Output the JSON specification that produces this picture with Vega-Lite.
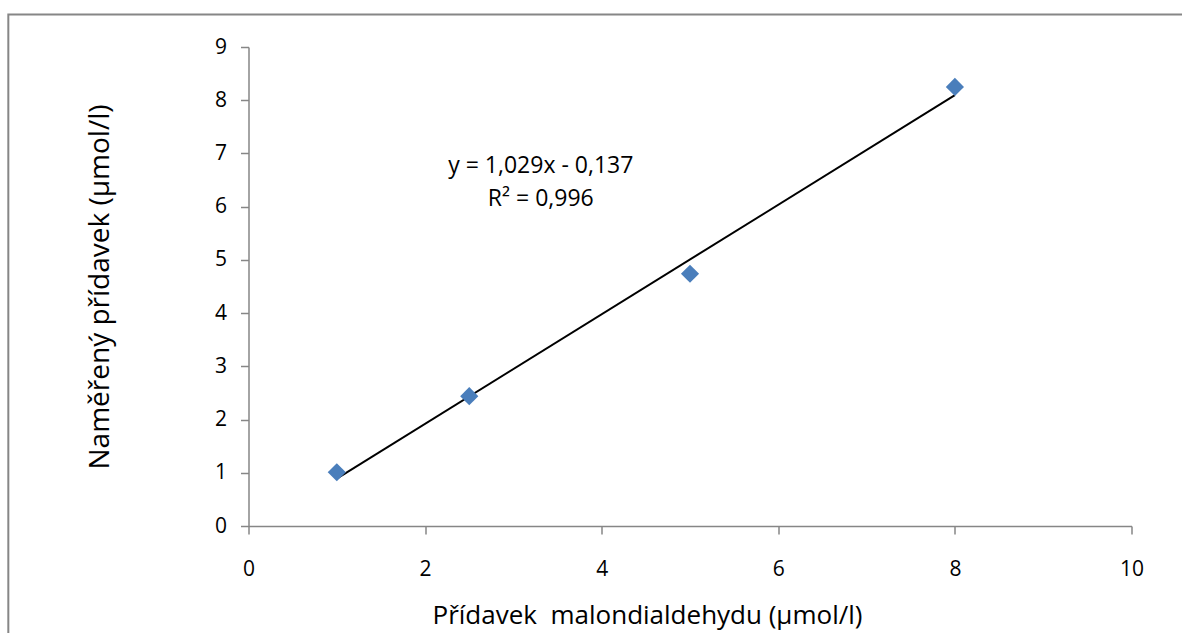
{
  "$schema": "https://vega.github.io/schema/vega-lite/v6.json",
  "width": 883,
  "height": 479,
  "autosize": {"type": "none"},
  "padding": {"left": 248.5, "top": 47, "right": 50, "bottom": 107},
  "background": "white",
  "config": {
    "view": {"stroke": null},
    "font": "Open Sans"
  },
  "datasets": {
    "points": [
      {"x": 1, "y": 1.01},
      {"x": 2.5, "y": 2.44},
      {"x": 5, "y": 4.74},
      {"x": 8, "y": 8.25}
    ],
    "trend": [
      {"x": 1, "y": 0.892},
      {"x": 8, "y": 8.095}
    ],
    "labels": [
      {"x": 3.31, "y": 6.77, "text": "y = 1,029x - 0,137"},
      {"x": 3.31, "y": 6.15, "text": "R² = 0,996"}
    ],
    "frame": [
      {"x": -2.72, "x2": 10.6, "y": 9.61, "y2": -2.5}
    ]
  },
  "layer": [
    {
      "data": {"name": "frame"},
      "mark": {"type": "rect", "fill": null, "stroke": "#868686", "strokeWidth": 2, "clip": false},
      "encoding": {
        "x": {
          "field": "x", "type": "quantitative",
          "scale": {"domain": [0, 10], "nice": false},
          "axis": {
            "values": [0, 2, 4, 6, 8, 10], "format": "d", "grid": false, "labelFlush": false,
            "domainColor": "#868686", "domainWidth": 1.5, "tickColor": "#868686", "tickWidth": 1.5, "tickSize": 8,
            "labelColor": "#000000", "labelFontSize": 21, "labelFont": "Open Sans", "labelPadding": 24,
            "title": "Přídavek\u00a0 malondialdehydu (µmol/l)", "titleFont": "Open Sans", "titleFontSize": 26,
            "titleFontWeight": "normal", "titleColor": "#000000", "titlePadding": 23, "titleX": 398.5
          }
        },
        "x2": {"field": "x2"},
        "y": {
          "field": "y", "type": "quantitative",
          "scale": {"domain": [0, 9], "nice": false},
          "axis": {
            "values": [0, 1, 2, 3, 4, 5, 6, 7, 8, 9], "format": "d", "grid": false, "labelFlush": false,
            "domainColor": "#868686", "domainWidth": 1.5, "tickColor": "#868686", "tickWidth": 1.5, "tickSize": 8,
            "labelColor": "#000000", "labelFontSize": 21, "labelFont": "Open Sans", "labelPadding": 14,
            "title": "Naměřený přídavek (µmol/l)", "titleFont": "Open Sans", "titleFontSize": 28,
            "titleFontWeight": "normal", "titleColor": "#000000", "titlePadding": 100
          }
        },
        "y2": {"field": "y2"}
      }
    },
    {
      "data": {"name": "trend"},
      "mark": {"type": "line", "color": "#000000", "strokeWidth": 2},
      "encoding": {
        "x": {"field": "x", "type": "quantitative"},
        "y": {"field": "y", "type": "quantitative"}
      }
    },
    {
      "data": {"name": "points"},
      "mark": {"type": "point", "shape": "diamond", "filled": true, "color": "#4A7EBB", "size": 330, "opacity": 1},
      "encoding": {
        "x": {"field": "x", "type": "quantitative"},
        "y": {"field": "y", "type": "quantitative"}
      }
    },
    {
      "data": {"name": "labels"},
      "mark": {"type": "text", "fontSize": 23, "color": "#000000", "align": "center", "baseline": "middle", "font": "Open Sans"},
      "encoding": {
        "x": {"field": "x", "type": "quantitative"},
        "y": {"field": "y", "type": "quantitative"},
        "text": {"field": "text"}
      }
    }
  ]
}
